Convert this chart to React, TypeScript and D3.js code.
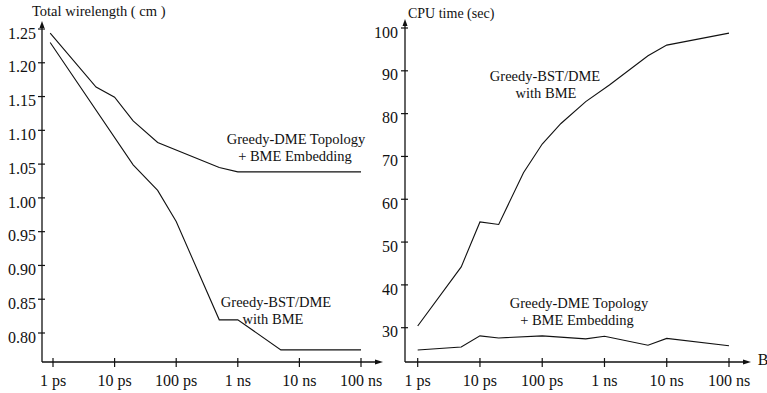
import * as d3 from "d3";

// x values in picoseconds (log scale), B = 1 ps ... 100 ns
const xTickValues = [1, 10, 100, 1000, 10000, 100000];
const xTickLabels = ["1 ps", "10 ps", "100 ps", "1 ns", "10 ns", "100 ns"];

// left panel: total wirelength (cm)
const wlTicks = [0.8, 0.85, 0.9, 0.95, 1.0, 1.05, 1.1, 1.15, 1.2, 1.25];
const wlDmeX = [0.9, 5, 10, 20, 50, 500, 1000, 100000];
const wlDmeY = [1.244, 1.164, 1.149, 1.114, 1.082, 1.045, 1.0385, 1.0385];
const wlBstX = [0.9, 20, 50, 100, 500, 1000, 5000, 100000];
const wlBstY = [1.23, 1.049, 1.011, 0.965, 0.8195, 0.8195, 0.775, 0.775];

// right panel: CPU time (sec)
const cpuTicks = [30, 40, 50, 60, 70, 80, 90, 100];
const cpuBstX = [1, 5, 10, 20, 50, 100, 200, 500, 1200, 5000, 10000, 100000];
const cpuBstY = [30.4, 44.2, 54.7, 54.1, 66.2, 72.9, 77.7, 82.8, 86.7, 93.5, 96.0, 98.8];
const cpuDmeX = [1, 5, 10, 20, 100, 500, 1000, 5000, 10000, 100000];
const cpuDmeY = [24.8, 25.5, 28.1, 27.6, 28.1, 27.4, 28.0, 25.9, 27.5, 25.8];

const font = "Liberation Serif, Times New Roman, Times, DejaVu Serif, Noto Serif, serif";
const ink = "#111";

type PanelProps = {
  axisX: number;
  axisY: number;
  xStart: number;
  xEnd: number;
  arrowEnd: number;
  yTop: number;
  yScale: d3.ScaleLinear<number, number>;
  yTicks: number[];
  yFmt: (v: number) => string;
  labelRight: number;
  series: { x: number[]; y: number[] }[];
};

function Panel({ axisX, axisY, xStart, xEnd, arrowEnd, yTop, yScale, yTicks, yFmt, labelRight, series }: PanelProps) {
  const x = d3.scaleLog().domain([1, 100000]).range([xStart, xEnd]);
  const line = d3
    .line<[number, number]>()
    .x((d) => x(d[0]))
    .y((d) => yScale(d[1]));

  return (
    <g>
      {/* axes */}
      <line x1={axisX} x2={axisX} y1={axisY} y2={yTop + 4} stroke={ink} strokeWidth={1.3} />
      <path d={`M${axisX},${yTop} l-2.5,7 l5,0 Z`} fill={ink} />
      <line x1={axisX} x2={arrowEnd - 4} y1={axisY} y2={axisY} stroke={ink} strokeWidth={1.3} />
      <path d={`M${arrowEnd},${axisY} l-8,-2.5 l0,5 Z`} fill={ink} />

      {yTicks.map((t) => (
        <g key={t}>
          <line x1={axisX - 4} x2={axisX + 3} y1={yScale(t)} y2={yScale(t)} stroke={ink} strokeWidth={1.2} />
          <text x={labelRight} y={yScale(t) + 6} textAnchor="end" dominantBaseline="middle" fontSize={16} fontFamily={font} fill={ink}>
            {yFmt(t)}
          </text>
        </g>
      ))}

      {xTickValues.map((t, i) => (
        <g key={t}>
          <line x1={x(t)} x2={x(t)} y1={axisY - 4} y2={axisY + 5} stroke={ink} strokeWidth={1.2} />
          <text x={x(t)} y={axisY + 20} textAnchor="middle" dominantBaseline="middle" fontSize={16} fontFamily={font} fill={ink}>
            {xTickLabels[i]}
          </text>
        </g>
      ))}

      {series.map((s, i) => (
        <path
          key={i}
          d={line(s.x.map((v, j) => [v, s.y[j]] as [number, number])) ?? ""}
          fill="none"
          stroke={ink}
          strokeWidth={1.1}
        />
      ))}
    </g>
  );
}

export default function App() {
  const wlY = d3.scaleLinear().domain([0.8, 1.25]).range([333, 29]);
  const cpuY = d3.scaleLinear().domain([30, 100]).range([327.7, 28]);

  const annot = { fontSize: 14.5, fontFamily: font, fill: ink, textAnchor: "middle" as const, dominantBaseline: "middle" as const };

  return (
    <svg width={767} height={393} style={{ position: "absolute", left: 0, top: 0, background: "#fff" }}>
      <rect width={767} height={393} fill="#fff" />
      <Panel
        axisX={42}
        axisY={362}
        xStart={53}
        xEnd={361}
        arrowEnd={383}
        yTop={21}
        yScale={wlY}
        yTicks={wlTicks}
        yFmt={(v) => v.toFixed(2)}
        labelRight={36}
        series={[
          { x: wlDmeX, y: wlDmeY },
          { x: wlBstX, y: wlBstY },
        ]}
      />
      <Panel
        axisX={405}
        axisY={362}
        xStart={417.7}
        xEnd={729}
        arrowEnd={751}
        yTop={19}
        yScale={cpuY}
        yTicks={cpuTicks}
        yFmt={(v) => String(v)}
        labelRight={398}
        series={[
          { x: cpuBstX, y: cpuBstY },
          { x: cpuDmeX, y: cpuDmeY },
        ]}
      />

      {/* titles */}
      <text x={32} y={13} fontSize={14.5} fontFamily={font} fill={ink} dominantBaseline="middle">
        Total wirelength ( cm )
      </text>
      <text x={408} y={15} fontSize={14} fontFamily={font} fill={ink} dominantBaseline="middle">
        CPU time (sec)
      </text>
      <text x={763} y={361} fontSize={16} fontFamily={font} fill={ink} textAnchor="middle" dominantBaseline="middle">
        B
      </text>

      {/* annotations */}
      <text x={296} y={141} {...annot}>Greedy-DME Topology</text>
      <text x={295} y={158} {...annot}>+ BME Embedding</text>
      <text x={276} y={304} {...annot}>Greedy-BST/DME</text>
      <text x={273} y={321} {...annot}>with BME</text>

      <text x={545} y={78} {...annot}>Greedy-BST/DME</text>
      <text x={546} y={95} {...annot}>with BME</text>
      <text x={579} y={305} {...annot}>Greedy-DME Topology</text>
      <text x={577} y={322} {...annot}>+ BME Embedding</text>
    </svg>
  );
}
